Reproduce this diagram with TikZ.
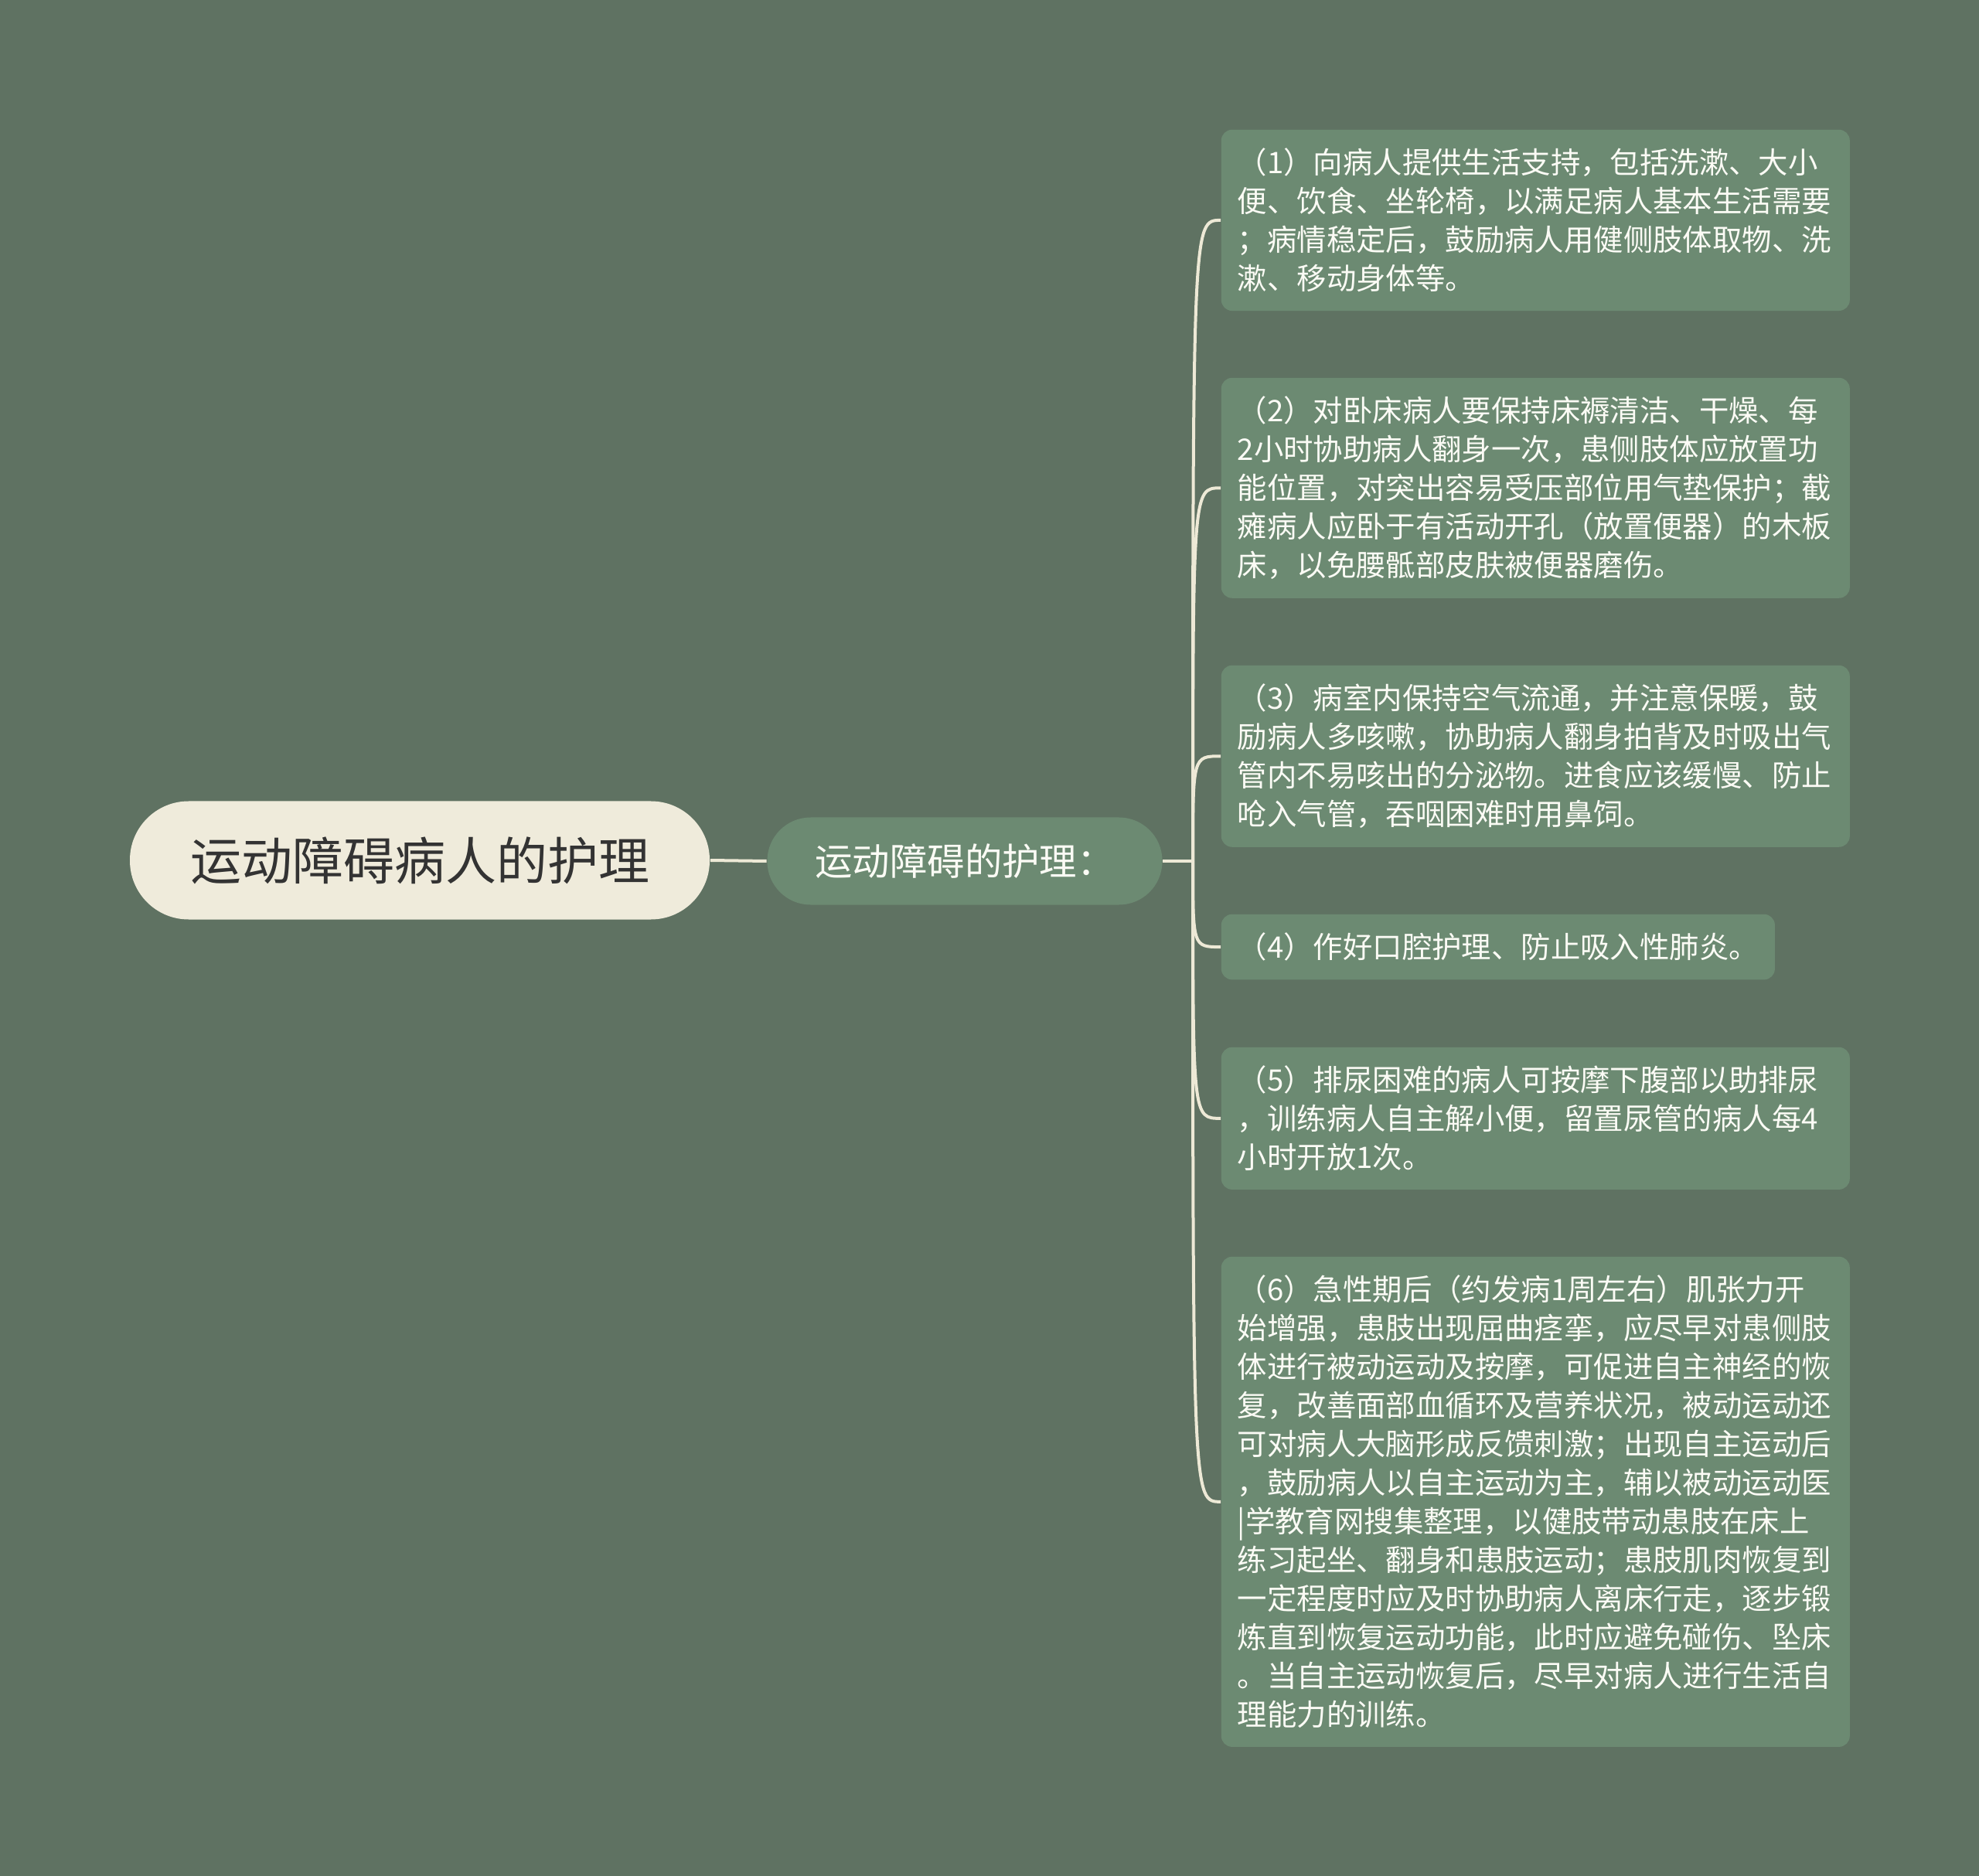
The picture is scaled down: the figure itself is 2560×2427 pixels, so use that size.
\documentclass[tikz,border=0pt]{standalone}
\usepackage{fontspec}
\setmainfont{Noto Sans CJK SC}
\definecolor{bgcol}{HTML}{5F7262}
\definecolor{boxcol}{HTML}{6C8A72}
\definecolor{rootcol}{HTML}{EFEBDB}
\definecolor{rootink}{HTML}{333333}
\definecolor{leafink}{HTML}{FBFBF5}
\definecolor{linecol}{HTML}{EDE9D6}
\begin{document}
\begin{tikzpicture}[x=.25pt,y=-.25pt,
	rootbox/.style={fill=rootcol,text=rootink,rounded corners=19pt,minimum width=187.5pt,minimum height=38.25pt,font=\fontsize{16.5pt}{20pt}\selectfont},
	subbox/.style={fill=boxcol,text=leafink,rounded corners=14pt,minimum width=127.75pt,minimum height=28.25pt,font=\fontsize{12.1pt}{15pt}\selectfont},
	leafbox/.style={fill=boxcol,text=leafink,rounded corners=3.5pt,anchor=north west,align=left,inner xsep=5.25pt,inner ysep=6pt,font=\fontsize{9.6pt}{12.5pt}\selectfont},
	widebox/.style={leafbox,text width=192.75pt},
	link/.style={draw=linecol,line width=1pt}]
	\fill[bgcol] (0,0) rectangle (2560,2427);
	\useasboundingbox (0,0) rectangle (2560,2427);

	\node[rootbox] (root) at (543,1113) {运动障碍病人的护理};
	\node[subbox] (sub) at (1248,1114) {运动障碍的护理：};
	\coordinate (fork) at (1543,1114);

	\node[widebox] (l1) at (1579,167) {（1）向病人提供生活支持，包括洗漱、大小\\便、饮食、坐轮椅，以满足病人基本生活需要\\；病情稳定后，鼓励病人用健侧肢体取物、洗\\漱、移动身体等。};
	\node[widebox] (l2) at (1579,488) {（2）对卧床病人要保持床褥清洁、干燥、每\\2小时协助病人翻身一次，患侧肢体应放置功\\能位置，对突出容易受压部位用气垫保护；截\\瘫病人应卧于有活动开孔（放置便器）的木板\\床，以免腰骶部皮肤被便器磨伤。};
	\node[widebox] (l3) at (1579,860) {（3）病室内保持空气流通，并注意保暖，鼓\\励病人多咳嗽，协助病人翻身拍背及时吸出气\\管内不易咳出的分泌物。进食应该缓慢、防止\\呛入气管，吞咽困难时用鼻饲。};
	\node[leafbox] (l4) at (1579,1182) {（4）作好口腔护理、防止吸入性肺炎。};
	\node[widebox] (l5) at (1579,1354) {（5）排尿困难的病人可按摩下腹部以助排尿\\，训练病人自主解小便，留置尿管的病人每4\\小时开放1次。};
	\node[widebox] (l6) at (1579,1625) {（6）急性期后（约发病1周左右）肌张力开\\始增强，患肢出现屈曲痉挛，应尽早对患侧肢\\体进行被动运动及按摩，可促进自主神经的恢\\复，改善面部血循环及营养状况，被动运动还\\可对病人大脑形成反馈刺激；出现自主运动后\\，鼓励病人以自主运动为主，辅以被动运动医\\|学教育网搜集整理，以健肢带动患肢在床上\\练习起坐、翻身和患肢运动；患肢肌肉恢复到\\一定程度时应及时协助病人离床行走，逐步锻\\炼直到恢复运动功能，此时应避免碰伤、坠床\\。当自主运动恢复后，尽早对病人进行生活自\\理能力的训练。};

	\draw[link] (root.east) -- (sub.west);
	\draw[link] (sub.east) -- (fork);
	\foreach \n in {l1,l2,l3,l4,l5,l6}
		\draw[link] (fork) .. controls (fork |- \n.west) .. (\n.west);
\end{tikzpicture}
\end{document}
